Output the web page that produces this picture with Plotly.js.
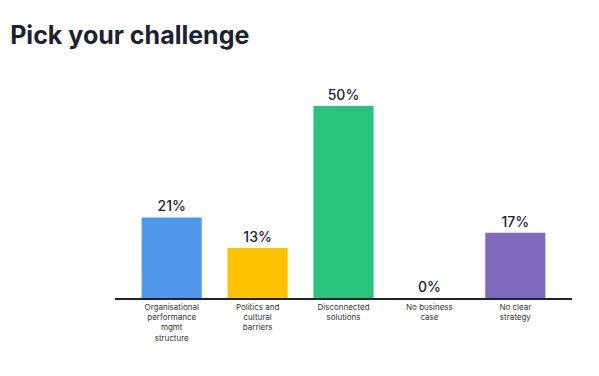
<!DOCTYPE html>
<html>
<head>
<meta charset="utf-8">
<script src="https://cdn.plot.ly/plotly-3.0.1.min.js"></script>
<style>html,body{margin:0;padding:0;background:#fff;}#chart{width:599px;height:376px;}</style>
</head>
<body>
<div id="chart"></div>
<script>
var categories = ["Organisational<br>performance<br>mgmt<br>structure", "Politics and<br>cultural<br>barriers", "Disconnected<br>solutions", "No business<br>case", "No clear<br>strategy"];
var values = [21, 13, 50, 0, 17];
var valueLabels = ["21%", "13%", "50%", "0%", "17%"];
var barColors = ["#4F98EC", "#FDC300", "#28C47D", "#7F6ABE", "#7F6ABE"];

var trace = {
  type: "bar",
  x: categories,
  y: values,
  text: valueLabels,
  textposition: "outside",
  cliponaxis: false,
  textfont: {family: "Inter, Lato, sans-serif", size: 14, color: "#1d2230", weight: 500},
  marker: {color: barColors},
  hoverinfo: "none"
};

var layout = {
  width: 599, height: 376,
  paper_bgcolor: "#ffffff", plot_bgcolor: "#ffffff",
  margin: {l: 115, r: 27, t: 80, b: 78},
  title: {text: "<b>Pick your challenge</b>", x: 0.017, xanchor: "left", y: 0.905, yanchor: "middle",
          font: {family: "Inter, Lato, sans-serif", size: 25, color: "#1d2230"}},
  bargap: 0.3,
  showlegend: false,
  xaxis: {range: [-0.66, 4.66], showline: true, linecolor: "#1d2230", linewidth: 2, ticks: "",
          tickfont: {family: "Inter, Lato, sans-serif", size: 8, color: "#333"}, showgrid: false, fixedrange: true},
  yaxis: {range: [0, 56.8], visible: false, showgrid: false, zeroline: false, fixedrange: true}
};

Plotly.newPlot("chart", [trace], layout, {displayModeBar: false, staticPlot: true});
</script>
</body>
</html>
